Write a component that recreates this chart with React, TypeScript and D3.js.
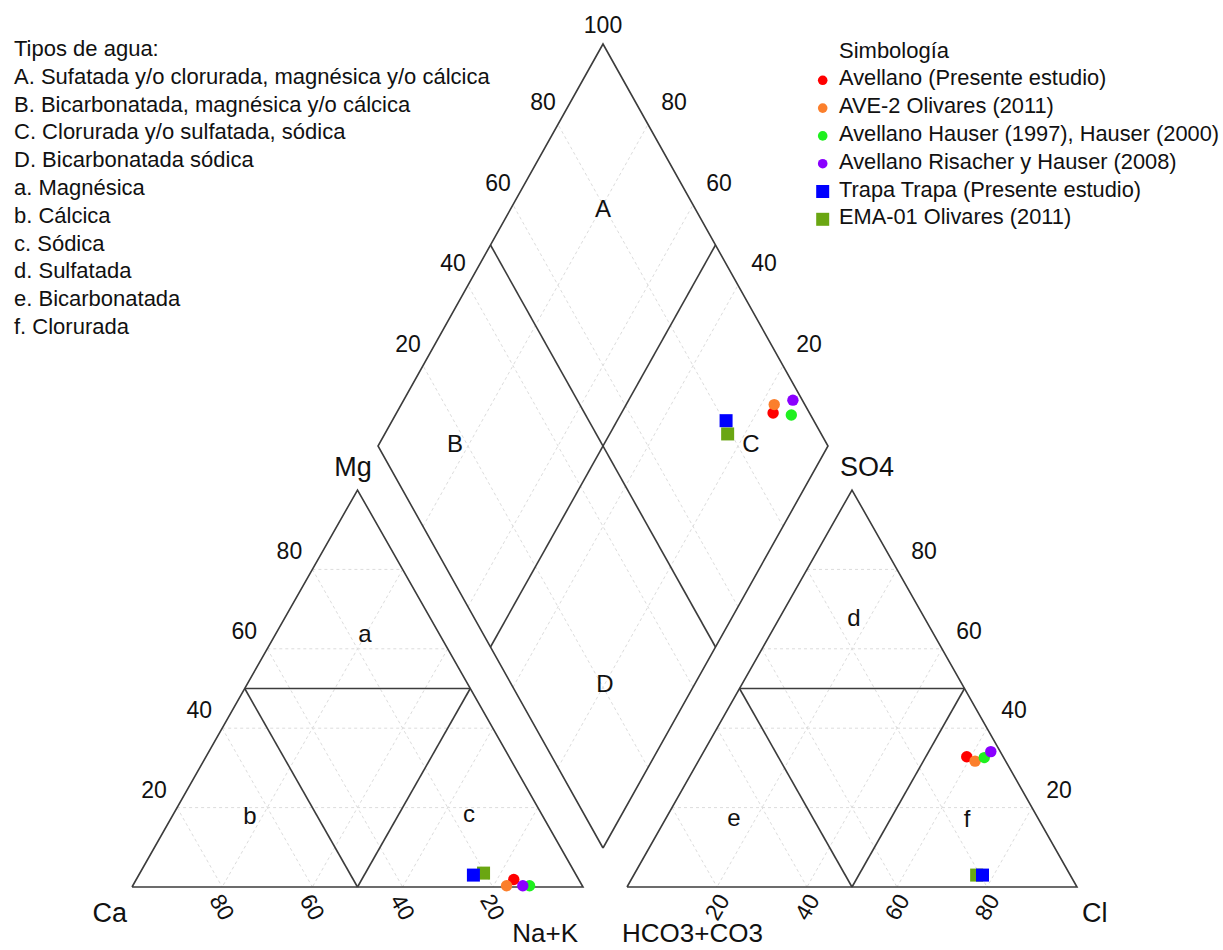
import React from "react";
import * as d3 from "d3";

// ---- Data ----
const sampleNames = [
  "Avellano (Presente estudio)",
  "AVE-2 Olivares (2011)",
  "Avellano Hauser (1997), Hauser (2000)",
  "Avellano Risacher y Hauser (2008)",
  "Trapa Trapa (Presente estudio)",
  "EMA-01 Olivares (2011)",
];
const sampleColors = ["#ff0000", "#fb7f2c", "#1ff01f", "#8a00ff", "#0000ff", "#6aa612"];
const sampleShapes = ["circle", "circle", "circle", "circle", "square", "square"];
// cations (% meq)
const caPct = [14.4, 16.8, 11.7, 13.2, 22.8, 20.3];
const mgPct = [1.9, 0.3, 0.3, 0.3, 3.0, 3.5];
const naKPct = [83.7, 82.9, 88.0, 86.5, 74.2, 76.2];
// anions (% meq)
const hco3Pct = [8.1, 6.8, 4.3, 2.1, 19.5, 20.8];
const so4Pct = [32.8, 31.7, 32.6, 34.1, 3.0, 3.0];
const clPct = [59.1, 61.5, 63.1, 63.8, 77.5, 76.2];
const drawOrder = [0, 1, 2, 3, 5, 4];

const gridValues = [20, 40, 60, 80];
const cationBottomTicks = [80, 60, 40, 20];
const anionBottomTicks = [20, 40, 60, 80];

const waterTypes = [
  "Tipos de agua:",
  "A. Sufatada y/o clorurada, magnésica y/o cálcica",
  "B. Bicarbonatada, magnésica y/o cálcica",
  "C. Clorurada y/o sulfatada, sódica",
  "D. Bicarbonatada sódica",
  "a. Magnésica",
  "b. Cálcica",
  "c. Sódica",
  "d. Sulfatada",
  "e. Bicarbonatada",
  "f. Clorurada",
];
const legendTitle = "Simbología";

// ---- Scales ----
const cationX = d3.scaleLinear().domain([0, 100]).range([132, 583]);
const anionX = d3.scaleLinear().domain([0, 100]).range([627, 1077]);
const triY = d3.scaleLinear().domain([0, 100]).range([887, 490]);
const diamondX = d3.scaleLinear().domain([-100, 100]).range([378, 828]);
const diamondY = d3.scaleLinear().domain([0, 200]).range([848, 44]);

type P = [number, number];
const cat = (ca: number, mg: number, na: number): P => [cationX(na + mg / 2), triY(mg)];
const ani = (hc: number, so: number, cl: number): P => [anionX(cl + so / 2), triY(so)];
const dia = (u: number, s: number): P => [diamondX(s - u), diamondY(s + u)];

const FONT = "'Liberation Sans', Arial, Helvetica, sans-serif";
const line = d3.line();

function Seg({ a, b, grid }: { a: P; b: P; grid?: boolean }) {
  return grid ? (
    <line x1={a[0]} y1={a[1]} x2={b[0]} y2={b[1]} stroke="#dcdcdc" strokeWidth={1} strokeDasharray="3,3" />
  ) : (
    <line x1={a[0]} y1={a[1]} x2={b[0]} y2={b[1]} stroke="#3c3c3c" strokeWidth={1.6} />
  );
}

function Marker({ shape, color, x, y, r, s }: any) {
  return shape === "circle" ? (
    <circle cx={x} cy={y} r={r} fill={color} />
  ) : (
    <rect x={x - s / 2} y={y - s / 2} width={s} height={s} fill={color} />
  );
}

export default function App() {
  const grids: [P, P][] = [];
  gridValues.forEach((v) => {
    grids.push([cat(100 - v, v, 0), cat(0, v, 100 - v)]);
    grids.push([cat(v, 100 - v, 0), cat(v, 0, 100 - v)]);
    grids.push([cat(0, 100 - v, v), cat(100 - v, 0, v)]);
    grids.push([ani(100 - v, v, 0), ani(0, v, 100 - v)]);
    grids.push([ani(v, 100 - v, 0), ani(v, 0, 100 - v)]);
    grids.push([ani(0, 100 - v, v), ani(100 - v, 0, v)]);
    grids.push([dia(v, 0), dia(v, 100)]);
    grids.push([dia(0, v), dia(100, v)]);
  });

  const outlines: P[][] = [
    [cat(100, 0, 0), cat(0, 0, 100), cat(0, 100, 0), cat(100, 0, 0)],
    [ani(100, 0, 0), ani(0, 0, 100), ani(0, 100, 0), ani(100, 0, 0)],
    [dia(0, 0), dia(100, 0), dia(100, 100), dia(0, 100), dia(0, 0)],
  ];
  const inner: [P, P][] = [
    [cat(50, 50, 0), cat(0, 50, 50)],
    [cat(50, 50, 0), cat(50, 0, 50)],
    [cat(0, 50, 50), cat(50, 0, 50)],
    [ani(50, 50, 0), ani(0, 50, 50)],
    [ani(50, 50, 0), ani(50, 0, 50)],
    [ani(0, 50, 50), ani(50, 0, 50)],
    [dia(100, 50), dia(0, 50)],
    [dia(50, 0), dia(50, 100)],
  ];

  const tickStyle = { fontFamily: FONT, fontSize: 23, fill: "#111" } as const;
  const regionStyle = { fontFamily: FONT, fontSize: 24, fill: "#111" } as const;
  const nameStyle = { fontFamily: FONT, fontSize: 27, fill: "#111" } as const;

  const regions: [string, number, number][] = [
    ["A", 603, 208], ["B", 455, 443], ["C", 751, 443], ["D", 605, 683],
    ["a", 365, 633], ["b", 250, 815], ["c", 469, 813],
    ["d", 854, 617], ["e", 734, 817], ["f", 967, 818],
  ];

  return (
    <svg
      width={1223}
      height={950}
      style={{ position: "absolute", left: 0, top: 0, background: "#fff" }}
    >
      <rect width={1223} height={950} fill="#fff" />
      {grids.map((g, i) => (
        <Seg key={"g" + i} a={g[0]} b={g[1]} grid />
      ))}
      {outlines.map((o, i) => (
        <path key={"o" + i} d={line(o) || ""} fill="none" stroke="#3c3c3c" strokeWidth={1.6} strokeLinejoin="miter" />
      ))}
      {inner.map((g, i) => (
        <Seg key={"i" + i} a={g[0]} b={g[1]} />
      ))}

      {gridValues.map((v) => {
        const [x, y] = cat(100 - v, v, 0);
        return (
          <text key={"mg" + v} x={x - 23} y={y - 18} textAnchor="middle" dominantBaseline="central" style={tickStyle}>
            {v}
          </text>
        );
      })}
      {cationBottomTicks.map((v) => {
        const [x, y] = cat(v, 0, 100 - v);
        return (
          <text key={"ca" + v} transform={`translate(${x},${y + 20}) rotate(60)`} textAnchor="middle" dominantBaseline="central" style={tickStyle}>
            {v}
          </text>
        );
      })}
      {anionBottomTicks.map((v) => {
        const [x, y] = ani(100 - v, 0, v);
        return (
          <text key={"cl" + v} transform={`translate(${x},${y + 20}) rotate(-60)`} textAnchor="middle" dominantBaseline="central" style={tickStyle}>
            {v}
          </text>
        );
      })}
      {gridValues.map((v) => {
        const [x, y] = ani(0, v, 100 - v);
        return (
          <text key={"so" + v} x={x + 27} y={y - 18} textAnchor="middle" dominantBaseline="central" style={tickStyle}>
            {v}
          </text>
        );
      })}
      {gridValues.map((v) => {
        const [x, y] = dia(100, v);
        return (
          <text key={"dl" + v} x={x - 15} y={y - 22} textAnchor="middle" dominantBaseline="central" style={tickStyle}>
            {v}
          </text>
        );
      })}
      {gridValues.map((v) => {
        const [x, y] = dia(v, 100);
        return (
          <text key={"dr" + v} x={x + 26} y={y - 22} textAnchor="middle" dominantBaseline="central" style={tickStyle}>
            {v}
          </text>
        );
      })}
      {(() => {
        const [x, y] = dia(100, 100);
        return (
          <text x={x} y={y - 19} textAnchor="middle" dominantBaseline="central" style={tickStyle}>
            100
          </text>
        );
      })()}

      <text x={353} y={476} textAnchor="middle" style={nameStyle}>Mg</text>
      <text x={867} y={476} textAnchor="middle" style={nameStyle}>SO4</text>
      <text x={127} y={922} textAnchor="end" style={nameStyle}>Ca</text>
      <text x={1082} y={922} textAnchor="start" style={nameStyle}>Cl</text>
      <text x={578} y={942} textAnchor="end" style={{ ...nameStyle, fontSize: 26 }}>Na+K</text>
      <text x={622} y={942} textAnchor="start" style={{ ...nameStyle, fontSize: 26 }}>HCO3+CO3</text>

      {regions.map(([t, x, y]) => (
        <text key={"r" + t} x={x} y={y} textAnchor="middle" dominantBaseline="central" style={regionStyle}>
          {t}
        </text>
      ))}

      {waterTypes.map((t, i) => (
        <text key={"w" + i} x={14} y={56 + i * 27.8} style={{ fontFamily: FONT, fontSize: 22, fill: "#111" }}>
          {t}
        </text>
      ))}

      <text x={839} y={57.5} style={{ fontFamily: FONT, fontSize: 22, fill: "#111" }}>
        {legendTitle}
      </text>
      {sampleNames.map((n, i) => {
        const by = 57.5 + (i + 1) * 27.8;
        return (
          <g key={"l" + i}>
            <Marker shape={sampleShapes[i]} color={sampleColors[i]} x={822.7} y={by - 5} r={4.8} s={13} />
            <text x={839} y={by} style={{ fontFamily: FONT, fontSize: 21.8, fill: "#111" }}>
              {n}
            </text>
          </g>
        );
      })}

      {drawOrder.map((i) => {
        const c = cat(caPct[i], mgPct[i], naKPct[i]);
        const a = ani(hco3Pct[i], so4Pct[i], clPct[i]);
        const d = dia(caPct[i] + mgPct[i], so4Pct[i] + clPct[i]);
        return (
          <g key={"p" + i}>
            {[c, a, d].map((p, k) => (
              <Marker key={k} shape={sampleShapes[i]} color={sampleColors[i]} x={p[0]} y={p[1]} r={5.7} s={13} />
            ))}
          </g>
        );
      })}
    </svg>
  );
}
